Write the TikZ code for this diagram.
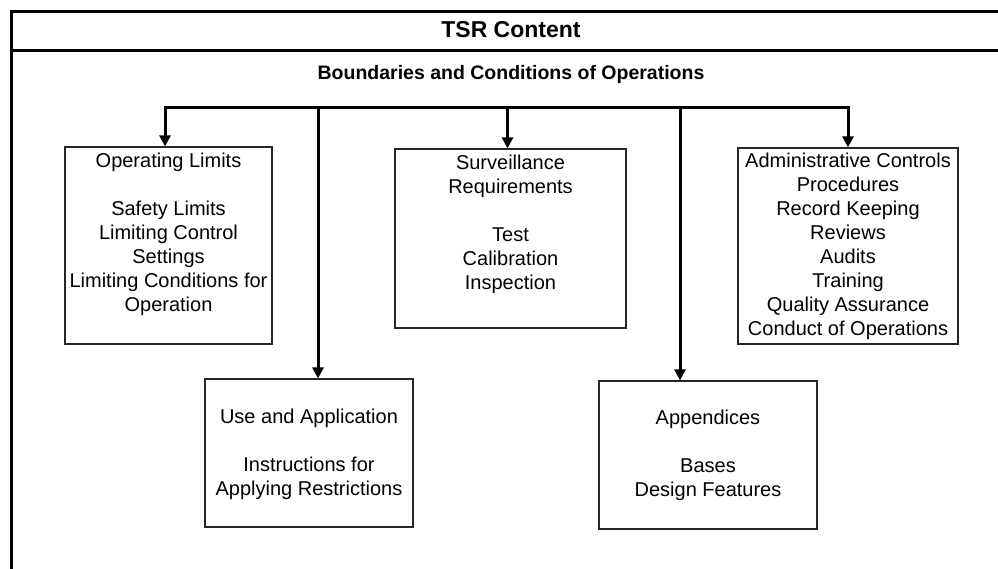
\documentclass[tikz,border=0pt]{standalone}
\usepackage{fontspec}
\setmainfont{Liberation Sans}
\usetikzlibrary{arrows.meta}
\begin{document}
\begin{tikzpicture}[x=1pt,y=-1pt,
  frame/.style={line width=3pt},
  box/.style={draw=black!85, line width=1.2pt, inner sep=0pt, fill=white},
  body/.style={align=center, inner sep=0pt, anchor=north, font=\fontsize{20}{24}\selectfont},
  bus/.style={line width=3pt},
  tip/.style={-{Triangle[length=11pt,width=11pt]}},
  tips/.style={{Triangle[length=11pt,width=11pt]}-{Triangle[length=11pt,width=11pt]}},
]
\useasboundingbox (0,0) rectangle (998,568);
\fill[white] (0,0) rectangle (998,568);
% outer frame
\draw[frame] (11.3,570) -- (11.3,11.3) -- (1000,11.3);
\draw[frame] (10,50) -- (1000,50);
\node[font=\bfseries\fontsize{23}{27}\selectfont, anchor=base, inner sep=0pt] (title) at (511,37.5) {TSR Content};
\node[font=\bfseries\fontsize{19.5}{23}\selectfont, anchor=base, inner sep=0pt] (sub) at (511,79) {Boundaries and Conditions of Operations};

% boxes
\node[box, minimum width=207pt, minimum height=197pt] (olbox) at (168.5,245.5) {};
\node[box, minimum width=231pt, minimum height=179pt] (svbox) at (510.5,238.5) {};
\node[box, minimum width=220pt, minimum height=196pt] (adbox) at (848,246) {};
\node[box, minimum width=208pt, minimum height=148pt] (uabox) at (309,453) {};
\node[box, minimum width=218pt, minimum height=148pt] (apbox) at (708,455) {};

% texts
\node[body] (oltext) at (168.5,152.5) {Operating Limits\\[24pt]Safety Limits\\Limiting Control\\Settings\\Limiting Conditions for\\Operation};
\node[body] (svtext) at (510.5,155) {Surveillance\\Requirements\\[24pt]Test\\Calibration\\Inspection};
\node[body] (adtext) at (848,152.5) {Administrative Controls\\Procedures\\Record Keeping\\Reviews\\Audits\\Training\\Quality Assurance\\Conduct of Operations};
\node[body] (uatext) at (309,409) {Use and Application\\[24pt]Instructions for\\Applying Restrictions};
\node[body] (aptext) at (708,410) {Appendices\\[24pt]Bases\\Design Features};

% connectors
\coordinate (busl) at (0,107);
\draw[bus, tips] ([xshift=-3.5pt]olbox.north) -- ([xshift=-3.5pt]olbox.north |- busl) -- (adbox.north |- busl) -- (adbox.north);
\draw[bus, tip] ([xshift=-3pt]svbox.north |- busl) -- ([xshift=-3pt]svbox.north);
\draw[bus, tip] ([xshift=9pt]uabox.north |- busl) -- ([xshift=9pt]uabox.north);
\draw[bus, tip] ([xshift=-28pt]apbox.north |- busl) -- ([xshift=-28pt]apbox.north);
\end{tikzpicture}
\end{document}
